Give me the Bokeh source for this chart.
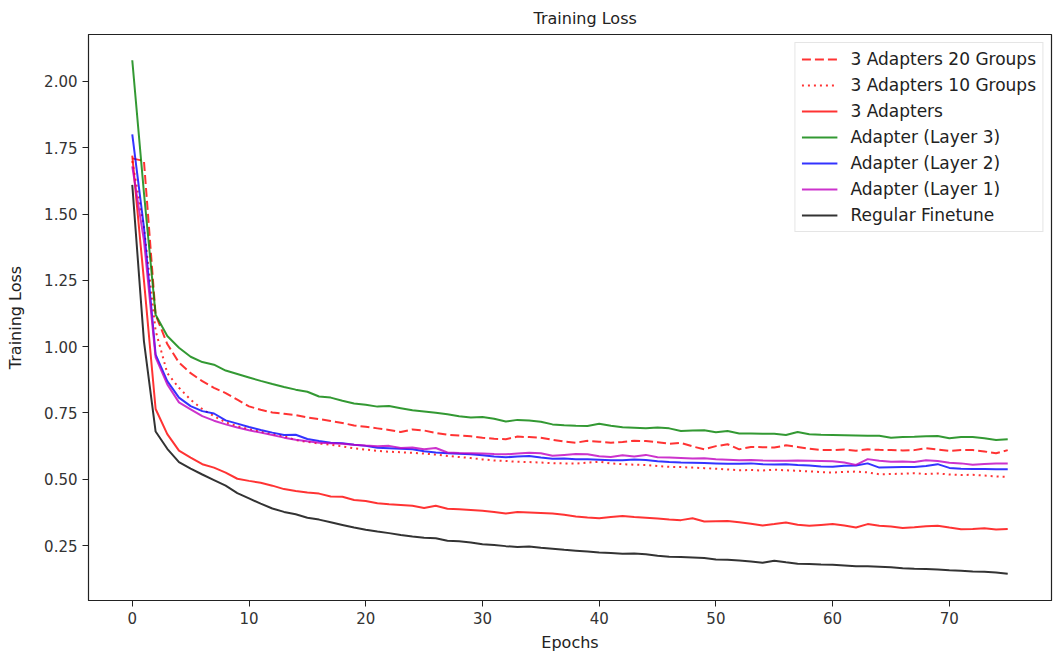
from bokeh.plotting import figure
from bokeh.models import Range1d, FixedTicker, Legend, LegendItem
from bokeh.embed import file_html
from bokeh.resources import INLINE

epochs = list(range(76))

groups20 = [1.71, 1.70, 1.12, 1.01, 0.94, 0.90, 0.87, 0.845, 0.825, 0.80,
            0.775, 0.762, 0.752, 0.747, 0.742, 0.733, 0.727, 0.72, 0.712, 0.703,
            0.698, 0.692, 0.686, 0.678, 0.688, 0.684, 0.675, 0.668, 0.665, 0.662,
            0.657, 0.653, 0.651, 0.661, 0.659, 0.657, 0.649, 0.642, 0.638, 0.645,
            0.642, 0.638, 0.641, 0.645, 0.644, 0.64, 0.634, 0.637, 0.624, 0.613,
            0.625, 0.632, 0.613, 0.622, 0.621, 0.62, 0.628, 0.622, 0.615, 0.61,
            0.61, 0.612, 0.608, 0.613, 0.611, 0.61, 0.609, 0.61, 0.617, 0.612,
            0.607, 0.61, 0.61, 0.605, 0.598, 0.61]

groups10 = [1.70, 1.45, 1.06, 0.90, 0.845, 0.80, 0.765, 0.738, 0.715, 0.70,
            0.689, 0.679, 0.67, 0.662, 0.648, 0.641, 0.635, 0.63, 0.624, 0.617,
            0.612, 0.607, 0.604, 0.602, 0.60, 0.597, 0.593, 0.588, 0.584, 0.58,
            0.575, 0.571, 0.569, 0.566, 0.565, 0.563, 0.561, 0.56, 0.559, 0.563,
            0.566, 0.56, 0.557, 0.555, 0.554, 0.55, 0.547, 0.546, 0.544, 0.542,
            0.54, 0.537, 0.534, 0.535, 0.533, 0.536, 0.534, 0.532, 0.53, 0.527,
            0.525, 0.528, 0.529, 0.526, 0.519, 0.52, 0.521, 0.523, 0.52, 0.522,
            0.518, 0.516, 0.517, 0.514, 0.511, 0.509]

adapters3 = [1.72, 1.25, 0.765, 0.67, 0.608, 0.582, 0.557, 0.544, 0.525, 0.502,
             0.494, 0.487, 0.476, 0.463, 0.456, 0.45, 0.446, 0.435, 0.434, 0.422,
             0.418, 0.41, 0.406, 0.403, 0.40, 0.392, 0.40, 0.389, 0.387, 0.384,
             0.381, 0.377, 0.371, 0.377, 0.375, 0.373, 0.371, 0.366, 0.36, 0.356,
             0.353, 0.358, 0.362, 0.358, 0.355, 0.352, 0.348, 0.346, 0.353, 0.341,
             0.342, 0.343, 0.338, 0.332, 0.326, 0.331, 0.337, 0.329, 0.325, 0.328,
             0.331, 0.326, 0.318, 0.331, 0.325, 0.322, 0.316, 0.319, 0.323, 0.325,
             0.318, 0.312, 0.313, 0.315, 0.311, 0.313]

layer3 = [2.08, 1.58, 1.12, 1.04, 0.996, 0.962, 0.942, 0.932, 0.91, 0.897,
          0.884, 0.871, 0.859, 0.848, 0.838, 0.83, 0.812, 0.808, 0.796, 0.786,
          0.781, 0.774, 0.776, 0.768, 0.76, 0.756, 0.751, 0.745, 0.738, 0.733,
          0.735, 0.728, 0.718, 0.724, 0.722, 0.717, 0.707, 0.704, 0.702, 0.701,
          0.709, 0.702, 0.696, 0.694, 0.692, 0.695, 0.692, 0.682, 0.684, 0.685,
          0.677, 0.682, 0.673, 0.673, 0.672, 0.672, 0.667, 0.678, 0.67, 0.668,
          0.667, 0.666, 0.665, 0.664, 0.664, 0.657, 0.659, 0.66, 0.662, 0.663,
          0.655, 0.659, 0.659, 0.655, 0.648, 0.651]

layer2 = [1.80, 1.45, 0.97, 0.87, 0.808, 0.776, 0.757, 0.748, 0.722, 0.71,
          0.697, 0.686, 0.676, 0.667, 0.668, 0.652, 0.644, 0.638, 0.636, 0.63,
          0.626, 0.619, 0.617, 0.615, 0.613, 0.606, 0.601, 0.598, 0.596, 0.594,
          0.591, 0.586, 0.583, 0.586, 0.588, 0.582, 0.577, 0.578, 0.576, 0.576,
          0.574, 0.572, 0.572, 0.575, 0.573, 0.568, 0.565, 0.563, 0.562, 0.561,
          0.56, 0.559, 0.559, 0.56, 0.557, 0.556, 0.557, 0.554, 0.552, 0.548,
          0.547, 0.551, 0.552, 0.56, 0.544, 0.545, 0.546, 0.546, 0.55, 0.557,
          0.543, 0.54, 0.539, 0.539, 0.538, 0.538]

layer1 = [1.68, 1.40, 0.96, 0.858, 0.79, 0.764, 0.738, 0.721, 0.707, 0.695,
          0.685, 0.676, 0.667, 0.657, 0.649, 0.643, 0.638, 0.636, 0.634, 0.63,
          0.627, 0.625, 0.626, 0.618, 0.62, 0.613, 0.618, 0.601, 0.599, 0.598,
          0.597, 0.595, 0.594, 0.597, 0.60, 0.598, 0.589, 0.592, 0.595, 0.594,
          0.587, 0.584, 0.591, 0.586, 0.592, 0.583, 0.582, 0.58, 0.578, 0.579,
          0.576, 0.574, 0.572, 0.573, 0.571, 0.57, 0.57, 0.571, 0.57, 0.569,
          0.568, 0.563, 0.554, 0.576, 0.57, 0.566, 0.567, 0.565, 0.572, 0.569,
          0.562, 0.56, 0.555, 0.558, 0.56, 0.56]

finetune = [1.61, 1.02, 0.68, 0.615, 0.565, 0.54, 0.518, 0.497, 0.476, 0.448,
            0.428, 0.408, 0.39, 0.377, 0.368, 0.355, 0.348, 0.338, 0.328, 0.318,
            0.31, 0.303, 0.297, 0.29, 0.284, 0.28, 0.278, 0.268, 0.266, 0.262,
            0.255, 0.252, 0.248, 0.245, 0.247, 0.242, 0.238, 0.234, 0.231, 0.228,
            0.224, 0.222, 0.219, 0.22, 0.217, 0.212, 0.208, 0.207, 0.205, 0.203,
            0.198, 0.197, 0.194, 0.19, 0.185, 0.193, 0.187, 0.182, 0.181, 0.179,
            0.178, 0.175, 0.172, 0.172, 0.17, 0.168, 0.165, 0.163, 0.162, 0.16,
            0.157, 0.155, 0.152, 0.151, 0.149, 0.144]

labels = ["3 Adapters 20 Groups", "3 Adapters 10 Groups", "3 Adapters",
          "Adapter (Layer 3)", "Adapter (Layer 2)", "Adapter (Layer 1)",
          "Regular Finetune"]
series = [groups20, groups10, adapters3, layer3, layer2, layer1, finetune]
colors = ["#ff0000", "#ff0000", "#ff0000", "#008000", "#0000ff", "#bf00bf", "#000000"]
dashes = ["9 4", "2 4", "solid", "solid", "solid", "solid", "solid"]

x_ticks = [0, 10, 20, 30, 40, 50, 60, 70]
y_ticks = [0.25, 0.50, 0.75, 1.00, 1.25, 1.50, 1.75, 2.00]

FONT = "DejaVu Sans"

p = figure(width=1055, height=657, output_backend="svg", toolbar_location=None,
           x_range=Range1d(-3.75, 78.75), y_range=Range1d(0.043, 2.177),
           min_border_left=88, min_border_right=4, min_border_top=33,
           min_border_bottom=57, title="Training Loss")

p.background_fill_color = "white"
p.border_fill_color = "white"
p.grid.visible = False
p.outline_line_color = "#222222"
p.outline_line_width = 1.2
p.outline_line_alpha = 1.0

p.title.align = "left"
p.title.offset = 445
p.title.text_font = FONT
p.title.text_font_size = "16px"
p.title.text_font_style = "normal"
p.title.text_color = "#222222"
p.title.standoff = 13

for ax in (p.xaxis[0], p.yaxis[0]):
    ax.major_tick_in = 0
    ax.major_tick_out = 6
    ax.minor_tick_line_color = None
    ax.axis_line_color = "#222222"
    ax.major_tick_line_color = "#222222"
    ax.major_label_text_font = FONT
    ax.major_label_text_font_size = "15px"
    ax.major_label_text_color = "#333333"
    ax.axis_label_text_font = FONT
    ax.axis_label_text_font_size = "16px"
    ax.axis_label_text_font_style = "normal"
    ax.axis_label_text_color = "#222222"

p.xaxis.ticker = FixedTicker(ticks=x_ticks)
p.yaxis.ticker = FixedTicker(ticks=y_ticks)
p.yaxis.major_label_overrides = {v: f"{v:.2f}" for v in y_ticks}
p.xaxis.axis_label = "Epochs"
p.yaxis.axis_label = "Training Loss"
p.xaxis.major_label_standoff = 5
p.xaxis.axis_label_standoff = 6
p.yaxis.major_label_standoff = 5
p.yaxis.axis_label_standoff = 16

items = []
for lab, ys, c, d in zip(labels, series, colors, dashes):
    r = p.line(epochs, ys, line_color=c, line_width=2, line_alpha=0.8, line_dash=d)
    items.append(LegendItem(label=lab, renderers=[r]))

legend = Legend(items=items, location="top_right")
legend.label_text_font = FONT
legend.label_text_font_size = "17px"
legend.label_text_color = "#222222"
legend.label_height = 20
legend.glyph_height = 20
legend.glyph_width = 36
legend.spacing = 6
legend.padding = 6
legend.margin = 8
legend.label_standoff = 13
legend.border_line_color = "#cccccc"
legend.border_line_width = 1
legend.background_fill_alpha = 0.8
p.add_layout(legend)

open("out.html", "w").write(file_html(p, INLINE))
